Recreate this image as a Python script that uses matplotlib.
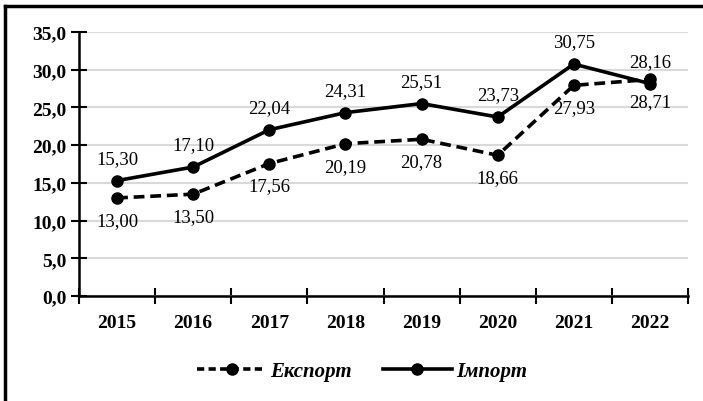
import matplotlib.pyplot as plt
from matplotlib.lines import Line2D
from matplotlib.font_manager import FontProperties

years = ['2015', '2016', '2017', '2018', '2019', '2020', '2021', '2022']
eksport = [13.00, 13.50, 17.56, 20.19, 20.78, 18.66, 27.93, 28.71]
import_ = [15.30, 17.10, 22.04, 24.31, 25.51, 23.73, 30.75, 28.16]
yticks = [0, 5, 10, 15, 20, 25, 30, 35]

plt.rcParams['font.family'] = ['Liberation Serif', 'DejaVu Serif']

fig = plt.figure(figsize=(7.03, 4.02), dpi=100)
ax = fig.add_axes([79/703, 1-297/402, (688-79)/703, (297-33)/402])

x = list(range(len(years)))
ax.plot(x, eksport, 'k--', lw=2.6, marker='o', ms=8, dashes=(3, 1.6), label='Експорт')
ax.plot(x, import_, 'k-', lw=2.6, marker='o', ms=8, label='Імпорт')

def fmt(v):
    return ('%.2f' % v).replace('.', ',')

for i in x:
    ax.annotate(fmt(import_[i]), (i, import_[i]), xytext=(0, 10), textcoords='offset points',
                ha='center', va='bottom', fontsize=13.5)
    ax.annotate(fmt(eksport[i]), (i, eksport[i]), xytext=(0, -10), textcoords='offset points',
                ha='center', va='top', fontsize=13.5)

ax.set_xlim(-0.5, len(years) - 0.5)
ax.set_ylim(0, 35)
ax.set_yticks(yticks)
ax.set_yticklabels([('%.1f' % v).replace('.', ',') for v in yticks], fontsize=14, fontweight='bold')
ax.set_xticks(x)
ax.set_xticklabels(years, fontsize=14, fontweight='bold')
ax.set_xticks([i - 0.5 for i in range(len(years) + 1)], minor=True)
ax.tick_params(axis='x', which='major', length=0, pad=13)
ax.tick_params(axis='x', which='minor', length=12, width=1.5, direction='inout', color='k')
ax.tick_params(axis='y', length=12, width=1.5, direction='inout', pad=3)
ax.grid(axis='y', color='#d9d9d9', lw=1.5)
ax.set_axisbelow(True)
for s in ['top', 'right']:
    ax.spines[s].set_visible(False)
for s in ['left', 'bottom']:
    ax.spines[s].set_linewidth(1.8)
ax.spines['bottom'].set_zorder(3)

handles = [Line2D([], [], color='k', ls='--', lw=2.6, marker='o', ms=8, dashes=(2, 1.2)),
           Line2D([], [], color='k', ls='-', lw=2.6, marker='o', ms=8)]
legfont = FontProperties(family='Liberation Serif', size=15, weight='bold', style='italic')
fig.legend(handles, ['Експорт', 'Імпорт'], loc='center', bbox_to_anchor=(0.515, 1-372/402),
           ncol=2, frameon=False, handlelength=3.3, columnspacing=1.5, handletextpad=0.2,
           prop=legfont)

fig.add_artist(Line2D([5/703, 5/703], [0, 1-7/402], color='k', lw=2.5, transform=fig.transFigure))
fig.add_artist(Line2D([5/703, 1], [1-7/402, 1-7/402], color='k', lw=2.5, transform=fig.transFigure))

fig.savefig('out.png', dpi=100)
